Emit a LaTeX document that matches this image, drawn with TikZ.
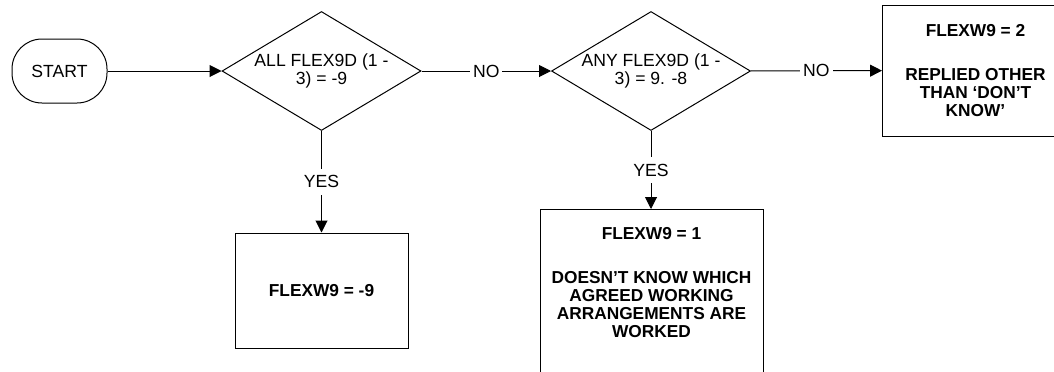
\documentclass[tikz,border=0pt]{standalone}
\usepackage{fontspec}
\setmainfont{Liberation Sans}
\usepackage{tikz}
\usetikzlibrary{shapes.geometric}
\usetikzlibrary{arrows.meta}

\begin{document}
\begin{tikzpicture}[x=0.5pt, y=-0.5pt,
    every node/.style={font=\fontsize{8.8}{9}\selectfont},
    terminal/.style={draw, line width=0.5pt, rectangle, rounded corners=15pt,
        minimum width=47.5pt, minimum height=32pt},
    decision/.style={draw, line width=0.5pt, diamond, shape aspect=1.67, inner sep=0pt,
        align=center, minimum width=99.5pt, minimum height=59.5pt},
    outcome/.style={draw, line width=0.5pt, rectangle, align=center,
        font=\fontsize{8.65}{9}\selectfont\bfseries},
    flow/.style={line width=0.5pt, -{Triangle[length=6pt, width=6pt]}},
    answer/.style={fill=white, inner xsep=1.5pt, inner ysep=3.5pt}]
    \useasboundingbox (0,0) rectangle (1054,371);

    % Inicio
    \node[terminal] (start) at (59.5,71) {START};

    % Decisoes
    \node[decision] (allneg) at (321.5,71) {ALL FLEX9D (1 -\\3) = -9};
    \node[decision] (anyneg) at (651,71) {ANY FLEX9D (1 -\\3) = 9. -8};

    % Resultados
    \node[outcome, minimum width=86.5pt, minimum height=57.5pt] (flexneg) at (321.5,290.5) {FLEXW9 = -9};
    \node[outcome, minimum width=111.5pt, anchor=north, inner ysep=9pt] (flexone) at (651.5,209)
        {FLEXW9 = 1\\[13pt]DOESN'T KNOW WHICH\\AGREED WORKING\\ARRANGEMENTS ARE\\WORKED\\[20pt]~};
    \node[outcome, minimum width=93pt, minimum height=65.5pt, anchor=west] (flextwo) at (882,70.5)
        {FLEXW9 = 2\\[13pt]REPLIED OTHER\\THAN `DON'T\\KNOW'};

    % Ligacoes
    \draw[flow] (start) -- (allneg);
    \draw[flow] (allneg) -- node[answer] {NO} (anyneg);
    \draw[flow] (anyneg) -- node[answer] {NO} (flextwo);
    \draw[flow] (allneg) -- node[answer] {YES} (flexneg);
    \draw[flow] (anyneg.south) -- node[answer] {YES} (anyneg.south |- flexone.north);
\end{tikzpicture}
\end{document}
